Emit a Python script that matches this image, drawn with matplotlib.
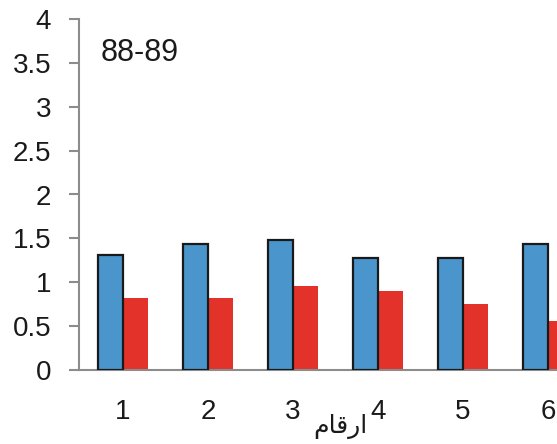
import matplotlib
matplotlib.use("Agg")
import matplotlib.pyplot as plt
import numpy as np

# Data
categories = [1, 2, 3, 4, 5, 6]
series_blue = [1.31, 1.44, 1.48, 1.28, 1.28, 1.44]
series_red = [0.82, 0.82, 0.96, 0.90, 0.75, 0.56]
y_ticks = [0, 0.5, 1, 1.5, 2, 2.5, 3, 3.5, 4]
y_tick_labels = ["0", "0.5", "1", "1.5", "2", "2.5", "3", "3.5", "4"]
panel_title = "88-89"
axis_label = "ارقام"
# Arabic presentation forms in visual (left-to-right) order, since matplotlib
# does not shape or reorder right-to-left text
axis_label_shaped = "\ufee1\ufe8e\ufed7\ufead\ufe8d"

plt.rcParams["font.family"] = ["Liberation Sans", "DejaVu Sans"]

W, H = 557, 444
fig = plt.figure(figsize=(W / 100, H / 100), dpi=100)
fig.patch.set_facecolor("white")

left, right = 79 / W, 1.0
bottom, top = (H - 370) / H, (H - 19) / H
ax = fig.add_axes([left, bottom, right - left, top - bottom])

x = np.array(categories, dtype=float)
bw = 0.29
ax.bar(x - bw / 2, series_blue, width=bw, color="#4a96cc",
       edgecolor="#1a1a1a", linewidth=1.6, zorder=3)
ax.bar(x + bw / 2, series_red, width=bw, color="#e2322a",
       edgecolor="none", zorder=2)

ax.set_xlim(0.482, 6.106)
ax.set_ylim(0, 4)

ax.set_yticks(y_ticks)
ax.set_yticklabels(y_tick_labels)
ax.set_xticks(x)
ax.set_xticklabels([str(c) for c in categories])

for s in ["top", "right"]:
    ax.spines[s].set_visible(False)
for s in ["left", "bottom"]:
    ax.spines[s].set_color("#8c8c8c")
    ax.spines[s].set_linewidth(1.5)

ax.tick_params(axis="y", direction="out", length=7, width=1.5,
               color="#8c8c8c", labelsize=20, pad=13, labelcolor="#1a1a1a")
ax.tick_params(axis="x", length=0, labelsize=20, pad=21,
               labelcolor="#1a1a1a")

ax.text(0.045, 0.902, panel_title, transform=ax.transAxes, fontsize=22,
        color="#1a1a1a", ha="left", va="center")

ax.text((340 - 79) / (W - 79), -(426 - 370) / (370 - 19), axis_label_shaped,
        transform=ax.transAxes, fontsize=18, ha="center", va="center",
        family=["DejaVu Sans"], color="#1a1a1a")

fig.savefig("out.png", dpi=100, facecolor="white")
